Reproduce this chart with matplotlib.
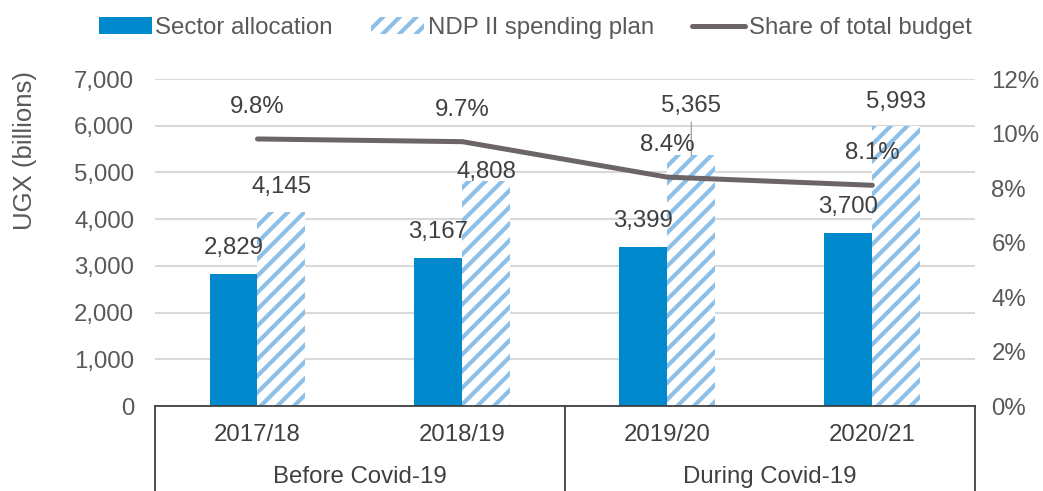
import numpy as np
import matplotlib.pyplot as plt
import matplotlib.transforms as mtransforms

plt.rcParams['font.family'] = ['Liberation Sans', 'DejaVu Sans']
plt.rcParams['hatch.linewidth'] = 3

years = ['2017/18', '2018/19', '2019/20', '2020/21']
periods = ['Before Covid-19', 'During Covid-19']
sector = [2829, 3167, 3399, 3700]
ndp = [4145, 4808, 5365, 5993]
share = [9.8, 9.7, 8.4, 8.1]

TXT = '#404040'
TICK = '#595959'
FS = 17.3

fig = plt.figure(figsize=(10.43, 4.91), dpi=100)
ax = fig.add_axes([0.1486, 0.1731, 0.786, 0.666])

x = np.arange(len(years))
w = 0.234
b1 = ax.bar(x - w / 2, sector, w, color='#0089CC', label='Sector allocation')
b2 = ax.bar(x + w / 2, ndp, w, facecolor='white', edgecolor='#8DC0E8', hatch='//',
            linewidth=0, label='NDP II spending plan')
ax.set_xlim(-0.5, 3.5)
ax.set_ylim(0, 7000)
ax.set_yticks(range(0, 7001, 1000))
ax.set_yticklabels([f'{v:,}' for v in range(0, 7001, 1000)])
ax.yaxis.grid(True, color='#D9D9D9', lw=1.5)
ax.set_axisbelow(True)
for s in ['top', 'left', 'right']:
    ax.spines[s].set_visible(False)
ax.spines['bottom'].set_color(TXT)
ax.spines['bottom'].set_linewidth(1.3)
ax.set_xticks([])
ax.tick_params(axis='y', length=0, pad=15, labelsize=FS, labelcolor=TICK)

ax2 = ax.twinx()
ln, = ax2.plot(x, share, color='#6B6568', lw=3.6, solid_capstyle='round',
               label='Share of total budget')
ax2.set_ylim(0, 12)
ax2.set_yticks(range(0, 13, 2))
ax2.set_yticklabels([f'{v}%' for v in range(0, 13, 2)])
for s in ax2.spines.values():
    s.set_visible(False)
ax2.tick_params(axis='y', length=0, pad=12, labelsize=FS, labelcolor=TICK)

# data labels (offsets in px, converted to points)
px = 0.72
for xi, v in zip(x, sector):
    ax.annotate(f'{v:,}', (xi - w / 2, v), xytext=(0, 26 * px), textcoords='offset points',
                ha='center', va='center', fontsize=FS, color=TXT)
ndp_off = [25, 9, 49, 24]
for xi, v, o in zip(x, ndp, ndp_off):
    ax.annotate(f'{v:,}', (xi + w / 2, v), xytext=(0, o * px), textcoords='offset points',
                ha='center', va='center', fontsize=FS, color=TXT)
# leader line for 5,365
ax.annotate('', xy=(2 + w / 2, ndp[2]), xytext=(0, 33 * px), textcoords='offset points',
            arrowprops=dict(arrowstyle='-', color='#A6A6A6', lw=1, shrinkA=0, shrinkB=0))
for xi, v in zip(x, share):
    ax2.annotate(f'{v}%', (xi, v), xytext=(0, 32 * px), textcoords='offset points',
                 ha='center', va='center', fontsize=FS, color=TXT)

# category axis with group boxes
trans = mtransforms.blended_transform_factory(ax.transData, ax.transAxes)
for xi, lab in zip(x, years):
    ax.text(xi, -0.0887, lab, transform=trans, ha='center', va='center', fontsize=FS, color=TXT)
for xi, lab in zip([0.5, 2.5], periods):
    ax.text(xi, -0.217, lab, transform=trans, ha='center', va='center', fontsize=FS, color=TXT)
for xv in [-0.5, 1.5, 3.5]:
    ax.plot([xv, xv], [0, -0.27], transform=trans, color=TXT, lw=1.3, clip_on=False)

fig.text(25 / 1043, 1 - 151 / 491, 'UGX (billions)', rotation=90, ha='center', va='center',
         fontsize=18.5, color=TICK)

fig.legend(handles=[b1, b2, ln], loc='center', bbox_to_anchor=(0.513, 1 - 28 / 491), ncol=3,
           frameon=False, handlelength=2.2, handletextpad=0.15, columnspacing=1.6,
           fontsize=FS, labelcolor=TICK)

fig.savefig('out.png', dpi=100)
